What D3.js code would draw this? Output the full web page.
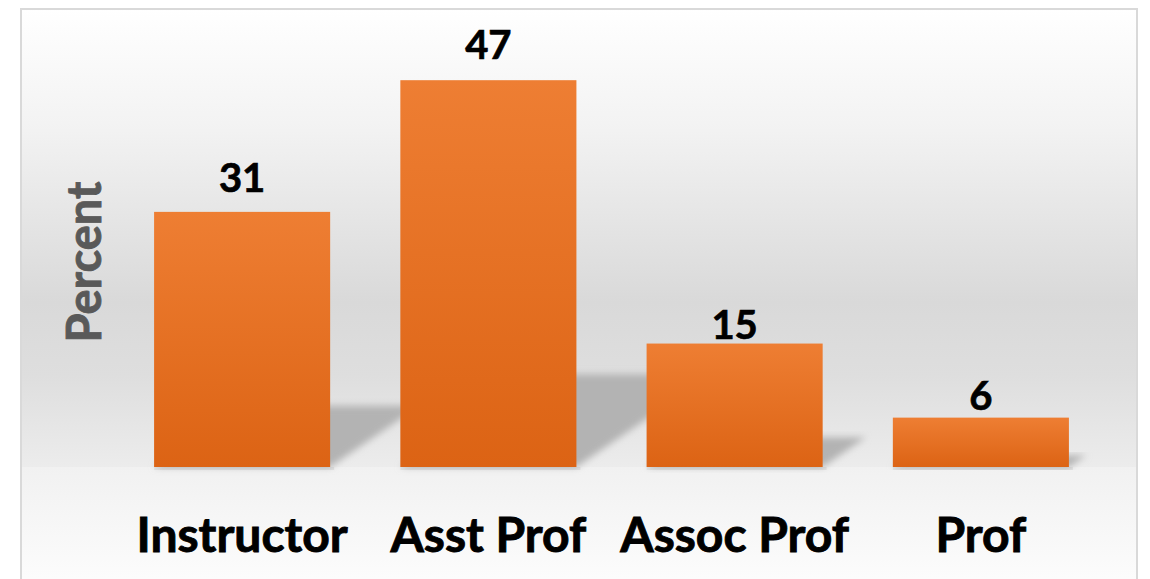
<!DOCTYPE html>
<html>
<head>
<meta charset="utf-8">
<script src="https://cdn.jsdelivr.net/npm/d3@7"></script>
<style>
  body { margin: 0; background: #ffffff; }
  svg { display: block; }
  text { font-family: Lato, "Open Sans", sans-serif; font-weight: bold; }
</style>
</head>
<body>
<svg width="1150" height="579"></svg>
<script>
const categories = ["Instructor", "Asst Prof", "Assoc Prof", "Prof"];
const percents = [31, 47, 15, 6];
const yAxisTitle = "Percent";

// label placement above each bar (Excel labels were nudged by hand)
const labelGap = [20, 21, 5, 8];

const svg = d3.select("svg");
const width = +svg.attr("width");
const height = +svg.attr("height");
const baseY = 467;

const defs = svg.append("defs");

const wallGrad = defs.append("linearGradient")
    .attr("id", "wall").attr("x1", 0).attr("y1", 0).attr("x2", 0).attr("y2", 1);
wallGrad.append("stop").attr("offset", "0%").attr("stop-color", "#ffffff");
wallGrad.append("stop").attr("offset", "25%").attr("stop-color", "#f3f3f3");
wallGrad.append("stop").attr("offset", "64%").attr("stop-color", "#d9d9d9");
wallGrad.append("stop").attr("offset", "80%").attr("stop-color", "#dedede");
wallGrad.append("stop").attr("offset", "100%").attr("stop-color", "#ececec");

const floorGrad = defs.append("linearGradient")
    .attr("id", "floor").attr("x1", 0).attr("y1", 0).attr("x2", 0).attr("y2", 1);
floorGrad.append("stop").attr("offset", "0%").attr("stop-color", "#f1f1f1");
floorGrad.append("stop").attr("offset", "100%").attr("stop-color", "#fefefe");

const barGrad = defs.append("linearGradient")
    .attr("id", "bar").attr("x1", 0).attr("y1", 0).attr("x2", 0).attr("y2", 1);
barGrad.append("stop").attr("offset", "0%").attr("stop-color", "#ee7e33");
barGrad.append("stop").attr("offset", "100%").attr("stop-color", "#dc6314");

defs.append("filter").attr("id", "blur")
    .attr("x", "-20%").attr("y", "-20%").attr("width", "140%").attr("height", "140%")
    .append("feGaussianBlur").attr("stdDeviation", 3.5);

// background: back wall + floor
svg.append("rect")
    .attr("x", 21).attr("y", 9)
    .attr("width", 1116).attr("height", baseY - 9)
    .attr("fill", "url(#wall)");
svg.append("rect")
    .attr("x", 21).attr("y", baseY)
    .attr("width", 1116).attr("height", height - baseY + 20)
    .attr("fill", "url(#floor)");

const xScale = d3.scaleBand()
    .domain(categories)
    .range([119, 1104])
    .paddingInner(0.285)
    .paddingOuter(0.1425);

const yScale = d3.scaleLinear()
    .domain([0, 50])
    .range([baseY, 55.5]);

const data = categories.map((c, i) => ({ cat: c, value: percents[i], gap: labelGap[i] }));

// perspective shadows cast behind each bar
svg.append("g")
    .selectAll("path")
    .data(data)
    .join("path")
    .attr("d", d => {
        const x0 = xScale(d.cat);
        const x1 = x0 + xScale.bandwidth();
        const h = baseY - yScale(d.value);
        const dx = h * 0.35, dh = h * 0.24;
        return `M${x0},${baseY} L${x1},${baseY} L${x1 + dx},${baseY - dh} L${x0 + dx},${baseY - dh} Z`;
    })
    .attr("fill", "#b3b3b3")
    .attr("filter", "url(#blur)");

// faint contact shadow under bars
svg.append("g")
    .selectAll("rect")
    .data(data)
    .join("rect")
    .attr("x", d => xScale(d.cat))
    .attr("y", baseY)
    .attr("width", xScale.bandwidth() + 4)
    .attr("height", 3)
    .attr("fill", "#000")
    .attr("opacity", 0.06);

svg.append("g")
    .selectAll("rect")
    .data(data)
    .join("rect")
    .attr("x", d => xScale(d.cat))
    .attr("y", d => yScale(d.value))
    .attr("width", xScale.bandwidth())
    .attr("height", d => baseY - yScale(d.value))
    .attr("fill", "url(#bar)");

// value labels
svg.append("g")
    .selectAll("text")
    .data(data)
    .join("text")
    .attr("x", d => xScale(d.cat) + xScale.bandwidth() / 2)
    .attr("y", d => yScale(d.value) - d.gap)
    .attr("text-anchor", "middle")
    .attr("font-size", 40)
    .attr("fill", "#000")
    .attr("stroke", "#000")
    .attr("stroke-width", 0.7)
    .text(d => d.value);

// category axis (labels only)
const xAxis = svg.append("g")
    .attr("transform", `translate(0,${baseY})`)
    .call(d3.axisBottom(xScale).tickSize(0).tickPadding(0));
xAxis.select(".domain").remove();
xAxis.selectAll("text")
    .attr("y", 85)
    .attr("dy", null)
    .attr("font-size", 48)
    .attr("font-family", "Lato, 'Open Sans', sans-serif")
    .attr("font-weight", "bold")
    .attr("fill", "#000")
    .attr("stroke", "#000")
    .attr("stroke-width", 0.9);

svg.append("text")
    .attr("transform", "translate(101,262) rotate(-90)")
    .attr("text-anchor", "middle")
    .attr("font-size", 47)
    .attr("fill", "#595959")
    .attr("stroke", "#595959")
    .attr("stroke-width", 0.9)
    .text(yAxisTitle);

// chart border
svg.append("rect")
    .attr("x", 21).attr("y", 9)
    .attr("width", 1116).attr("height", height)
    .attr("fill", "none")
    .attr("stroke", "#d9d9d9")
    .attr("stroke-width", 2);
</script>
</body>
</html>
